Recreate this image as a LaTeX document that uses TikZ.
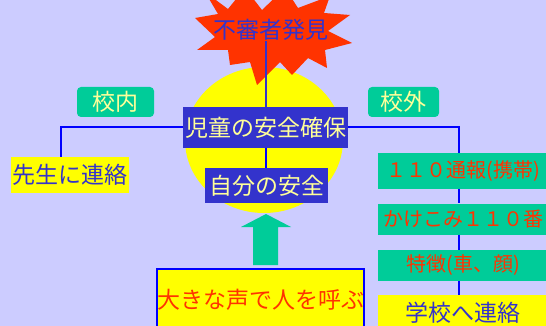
\documentclass[tikz,border=0pt]{standalone}
\usepackage{fontspec}
\setmainfont{Noto Sans CJK JP}
\usetikzlibrary{calc}
\definecolor{haikei}{HTML}{CCCCFF}
\definecolor{kiiro}{HTML}{FFFF00}
\definecolor{usuki}{HTML}{FFFF99}
\definecolor{hoshi}{HTML}{FF3300}
\definecolor{kon}{HTML}{3333CC}
\definecolor{midori}{HTML}{00CC99}
\definecolor{sen}{HTML}{0000FF}

\begin{document}
\begin{tikzpicture}[x=1pt, y=-1pt,
	every node/.style={inner sep=0pt, font=\fontsize{23}{23}\selectfont},
	konbox/.style={fill=kon, text=usuki},
	tagbox/.style={fill=midori, text=usuki, rounded corners=4pt,
		minimum height=30},
	midoribox/.style={fill=midori, text=hoshi, minimum width=170,
		font=\fontsize{20}{20}\selectfont},
	kiirobox/.style={fill=kiiro, text=kon},
	conn/.style={draw=sen, line width=2pt}]
	\useasboundingbox (0,0) rectangle (546,326);
	\fill[haikei] (0,0) rectangle (546,326);
	% circle and star
	\fill[kiiro] (264,140) ellipse [x radius=79, y radius=73];
	\fill[hoshi] (205,-8) -- (228,9) -- (245,-12) -- (262,10) -- (285,-12)
		-- (298,8) -- (330,-4) -- (324,13) -- (350,15) -- (328,31)
		-- (352,43) -- (325,50) -- (327,68) -- (308,58) -- (292,75)
		-- (280,62) -- (257,85) -- (250,62) -- (230,65) -- (228,50)
		-- (197,50) -- (215,37) -- (195,18) -- (218,14) -- cycle;
	% arrow
	\fill[midori] (266,214) -- (291,227) -- (278,227) -- (278,265)
		-- (253,265) -- (253,227) -- (241,227) -- cycle;

	\node[text=kon] (fushin) at (271,30) {不審者発見};
	\node[konbox, minimum width=165, minimum height=41] (jido) at (265.5,127.5) {児童の安全確保};
	\node[konbox, minimum width=123, minimum height=35] (jibun) at (266.5,185.5) {自分の安全};
	\node[tagbox, minimum width=77] (kounai) at (115.5,102) {校内};
	\node[tagbox, minimum width=71] (kougai) at (403.5,102) {校外};
	\node[kiirobox, minimum width=118, minimum height=36] (sensei) at (70,175) {先生に連絡};
	\node[midoribox, minimum height=36] (tsuho) at (463,171) {１１０通報(携帯)};
	\node[midoribox, minimum height=31] (kakekomi) at (463,219) {かけこみ１１０番};
	\node[midoribox, minimum height=31] (tokucho) at (463,265.5) {特徴(車、顔)};
	\node[kiirobox, minimum width=170, minimum height=36] (gakkou) at (463,313) {学校へ連絡};
	\node[kiirobox, text=hoshi, draw=sen, line width=2pt, minimum width=203,
		minimum height=62] (koe) at (260.5,300) {大きな声で人を呼ぶ};

	\draw[conn, draw=kon] (jido.north) -- (jido.north |- fushin.south);
	\draw[conn] (jido.south) -- (jido.south |- jibun.north);
	\draw[conn] (jido.west) -| ([xshift=-9]sensei.north);
	\draw[conn] (jido.east) -| ([xshift=-4]tsuho.north);
	\draw[conn] ([xshift=-4]tsuho.south) -- ([xshift=-4]kakekomi.north);
	\draw[conn] ([xshift=-4]kakekomi.south) -- ([xshift=-4]tokucho.north);
	\draw[conn] ([xshift=-4]tokucho.south) -- ([xshift=-4]gakkou.north);
\end{tikzpicture}
\end{document}
